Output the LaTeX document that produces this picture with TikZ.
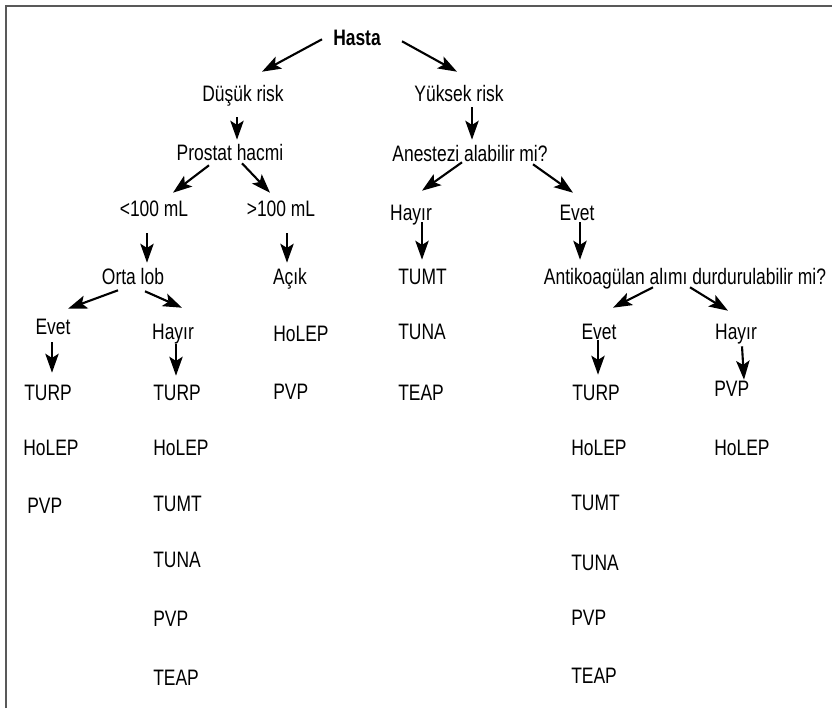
\documentclass[tikz,border=0pt]{standalone}
\usepackage{fontspec}
\setmainfont{Liberation Sans}[FakeStretch=0.78]
\usetikzlibrary{arrows.meta}

\tikzset{
  lbl/.style={inner sep=0pt, text height=11.4pt, text depth=0pt, font=\fontsize{15.9}{19}\selectfont},
  leaf/.style={lbl, anchor=west},
  arr/.style={line width=1.5pt, -{Stealth[length=13.5pt, width=9.5pt, inset=3pt]}},
  frame/.style={black!65, line width=1.4pt}
}

\begin{document}
\begin{tikzpicture}[x=0.025cm,y=-0.025cm]
  \useasboundingbox (0,0) rectangle (832,708);
  \draw[frame] (6,708) -- (6,6) -- (832,6);

  % top of the tree
  \node[lbl, font=\fontsize{15.9}{19}\selectfont\bfseries] (hasta) at (357,37) {Hasta};
  \node[lbl] (dusuk) at (243,93) {Düşük risk};
  \node[lbl] (yuksek) at (459,93) {Yüksek risk};
  \node[lbl] (prostat) at (230,152) {Prostat hacmi};
  \node[lbl] (anestezi) at (470,153) {Anestezi alabilir mi?};
  \node[lbl] (lt) at (154,208) {<100 mL};
  \node[lbl] (gt) at (281,208) {>100 mL};
  \node[lbl] (hayirA) at (411,212) {Hayır};
  \node[lbl] (evetA) at (577,212) {Evet};
  \node[lbl] (orta) at (133,276) {Orta lob};
  \node[lbl] (acik) at (290,276) {Açık};
  \node[lbl] (anti) at (685,276) {Antikoagülan alımı durdurulabilir mi?};
  \node[lbl] (evetB) at (53,326) {Evet};
  \node[lbl] (hayirB) at (173,331) {Hayır};
  \node[lbl] (evetC) at (599,331) {Evet};
  \node[lbl] (hayirC) at (736,331) {Hayır};

  % treatment lists
  \node[leaf] (turpA) at (24,392) {TURP};
  \node[leaf] (holepA) at (23,447) {HoLEP};
  \node[leaf] (pvpA) at (27,505) {PVP};

  \node[leaf] (turpB) at (153,392) {TURP};
  \node[leaf] (holepB) at (153,447) {HoLEP};
  \node[leaf] (tumtB) at (153,503) {TUMT};
  \node[leaf] (tunaB) at (153,559) {TUNA};
  \node[leaf] (pvpB) at (153,618) {PVP};
  \node[leaf] (teapB) at (153,677) {TEAP};

  \node[leaf] (holepC) at (273,333) {HoLEP};
  \node[leaf] (pvpC) at (273,391) {PVP};

  \node[leaf] (tumtD) at (398,276) {TUMT};
  \node[leaf] (tunaD) at (398,331) {TUNA};
  \node[leaf] (teapD) at (398,392) {TEAP};

  \node[leaf] (turpE) at (572,392) {TURP};
  \node[leaf] (holepE) at (571,447) {HoLEP};
  \node[leaf] (tumtE) at (571,502) {TUMT};
  \node[leaf] (tunaE) at (571,562) {TUNA};
  \node[leaf] (pvpE) at (571,617) {PVP};
  \node[leaf] (teapE) at (571,675) {TEAP};

  \node[leaf] (pvpF) at (714,388) {PVP};
  \node[leaf] (holepF) at (714,447) {HoLEP};

  % arrows
  \draw[arr] ([shift={(-35,-6)}]hasta.south) -- ([shift={(19,-13)}]dusuk.north);
  \draw[arr] ([shift={(45,-4)}]hasta.south) -- ([shift={(-2,-13)}]yuksek.north);
  \draw[arr] ([shift={(-6,16)}]dusuk.south) -- ([shift={(7,-4)}]prostat.north);
  \draw[arr] ([shift={(13,6)}]yuksek.south) -- ([shift={(2,-5)}]anestezi.north);
  \draw[arr] ([shift={(-21,5)}]prostat.south) -- ([shift={(19,-7)}]lt.north);
  \draw[arr] ([shift={(12,3)}]prostat.south) -- ([shift={(-11,-7)}]gt.north);
  \draw[arr] ([shift={(-8,1)}]anestezi.south) -- ([shift={(11,-13)}]hayirA.north);
  \draw[arr] ([shift={(63,3)}]anestezi.south) -- ([shift={(-4,-11)}]evetA.north);
  \draw[arr] ([shift={(-7,17)}]lt.south) -- ([shift={(14,-5)}]orta.north);
  \draw[arr] ([shift={(6,17)}]gt.south) -- ([shift={(-3,-5)}]acik.north);
  \draw[arr] ([shift={(11,2)}]hayirA.south) -- ([shift={(24,-8)}]tumtD.north west);
  \draw[arr] ([shift={(3,2)}]evetA.south) -- ([shift={(-105,-8)}]anti.north);
  \draw[arr] ([shift={(-15,6)}]orta.south) -- ([shift={(15,-9)}]evetB.north);
  \draw[arr] ([shift={(12,7)}]orta.south) -- ([shift={(9,-15)}]hayirB.north);
  \draw[arr] ([shift={(-32,3)}]anti.south) -- ([shift={(14,-15)}]evetC.north);
  \draw[arr] ([shift={(5,3)}]anti.south) -- ([shift={(-8,-12)}]hayirC.north);
  \draw[arr] ([shift={(-1,8)}]evetB.south) -- ([shift={(28,-11)}]turpA.north west);
  \draw[arr] ([shift={(3,5)}]hayirB.south) -- ([shift={(23,-8)}]turpB.north west);
  \draw[arr] ([shift={(-1,1)}]evetC.south) -- ([shift={(26,-9)}]turpE.north west);
  \draw[arr] ([shift={(6,7)}]hayirC.south) -- ([shift={(30,0)}]pvpF.north west);
\end{tikzpicture}
\end{document}
